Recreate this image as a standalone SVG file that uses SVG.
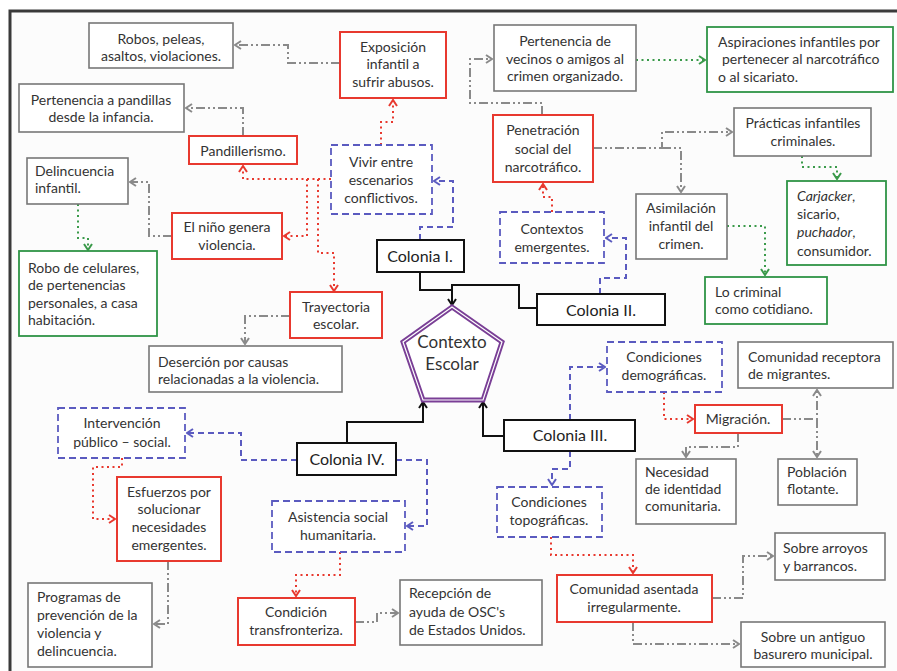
<svg xmlns="http://www.w3.org/2000/svg" width="897" height="671" viewBox="0 0 897 671">
<style>
text{font-family:Lato,"Open Sans","Liberation Sans",sans-serif;font-size:14px;fill:#333}
.c{text-anchor:middle}
.big{font-size:16px;fill:#222}
.pent{font-size:17px;fill:#333}
.gray{fill:#fff;stroke:#777;stroke-width:1.6}
.red{fill:#fff;stroke:#e8392f;stroke-width:2}
.grn{fill:#fff;stroke:#2f9446;stroke-width:1.8}
.blu{fill:#fff;stroke:#5b5bc0;stroke-width:1.8;stroke-dasharray:7,4}
.blk{fill:#fff;stroke:#111;stroke-width:2}
.lg{fill:none;stroke:#8a8a8a;stroke-width:2;stroke-dasharray:9,3,2,3,2,3}
.lr{fill:none;stroke:#e8392f;stroke-width:2;stroke-dasharray:2,3.5}
.lgr{fill:none;stroke:#3a9a4a;stroke-width:2;stroke-dasharray:2,3.5}
.lb{fill:none;stroke:#5b5bc0;stroke-width:2;stroke-dasharray:6,4}
.lk{fill:none;stroke:#111;stroke-width:2}
</style>
<defs>
<marker id="ag" viewBox="0 0 8 10" refX="7" refY="5" markerWidth="8" markerHeight="10" markerUnits="userSpaceOnUse" orient="auto"><path d="M1,1 L7,5 L1,9" fill="none" stroke="#8a8a8a" stroke-width="2"/></marker>
<marker id="ar" viewBox="0 0 8 10" refX="7" refY="5" markerWidth="8" markerHeight="10" markerUnits="userSpaceOnUse" orient="auto"><path d="M1,1 L7,5 L1,9" fill="none" stroke="#e8392f" stroke-width="2"/></marker>
<marker id="agr" viewBox="0 0 8 10" refX="7" refY="5" markerWidth="8" markerHeight="10" markerUnits="userSpaceOnUse" orient="auto"><path d="M1,1 L7,5 L1,9" fill="none" stroke="#3a9a4a" stroke-width="2"/></marker>
<marker id="ab" viewBox="0 0 8 10" refX="7" refY="5" markerWidth="8" markerHeight="10" markerUnits="userSpaceOnUse" orient="auto"><path d="M1,1 L7,5 L1,9" fill="none" stroke="#5b5bc0" stroke-width="2"/></marker>
<marker id="ak" viewBox="0 0 8 10" refX="7" refY="5" markerWidth="8" markerHeight="10" markerUnits="userSpaceOnUse" orient="auto"><path d="M1,1 L7,5 L1,9" fill="none" stroke="#111" stroke-width="2"/></marker>
</defs>
<rect x="0" y="0" width="897" height="671" fill="#fff"/>
<rect x="10" y="11" width="900" height="680" fill="#fcfcfc" stroke="#3a3a3a" stroke-width="3"/>

<g id="connectors">
<path class="lg" d="M340,63 H288 V45 H235" marker-end="url(#ag)"/>
<path class="lg" d="M243,136 V108 H186" marker-end="url(#ag)"/>
<path class="lg" d="M172,236 H149 V182 H130" marker-end="url(#ag)"/>
<path class="lgr" d="M78,204 V238 H88 V250" marker-end="url(#agr)"/>
<path class="lr" d="M331,179 H243 V166" marker-end="url(#ar)"/>
<path class="lr" d="M307,179 V236 H284" marker-end="url(#ar)"/>
<path class="lr" d="M318,179 V253 H334 V291" marker-end="url(#ar)"/>
<path class="lr" d="M381,145 V122 H393 V100" marker-end="url(#ar)"/>
<path class="lb" d="M420,240 V227 H453 V181 H434" marker-end="url(#ab)"/>
<path class="lg" d="M542,115 V103 H470 V59 H492" marker-end="url(#ag)"/>
<path class="lgr" d="M636,60 H705" marker-end="url(#agr)"/>
<path class="lg" d="M593,148 H662 V132 H732" marker-end="url(#ag)"/>
<path class="lg" d="M662,148 H681 V192" marker-end="url(#ag)"/>
<path class="lgr" d="M802,156 V167 H837 V179" marker-end="url(#agr)"/>
<path class="lgr" d="M727,226 H765 V275" marker-end="url(#agr)"/>
<path class="lb" d="M600,294 V278 H626 V238 H606" marker-end="url(#ab)"/>
<path class="lr" d="M552,212 V197 H543 V184" marker-end="url(#ar)"/>
<path class="lk" d="M420,272 V290 H452 V305" marker-end="url(#ak)"/>
<path class="lk" d="M537,308 H519 V285 H452 V290"/>
<path class="lk" d="M347,443 V422 H423 V402" marker-end="url(#ak)"/>
<path class="lk" d="M504,436 H483 V402" marker-end="url(#ak)"/>
<path class="lb" d="M297,460 H241 V433 H187" marker-end="url(#ab)"/>
<path class="lb" d="M396,460 H427 V526 H407" marker-end="url(#ab)"/>
<path class="lb" d="M570,420 V367 H605" marker-end="url(#ab)"/>
<path class="lb" d="M570,451 V469 H552 V485" marker-end="url(#ab)"/>
<path class="lr" d="M664,392 V419 H693" marker-end="url(#ar)"/>
<path class="lg" d="M782,419 H817 V390" marker-end="url(#ag)"/>
<path class="lg" d="M817,419 V457" marker-end="url(#ag)"/>
<path class="lg" d="M738,433 V447 H686 V457" marker-end="url(#ag)"/>
<path class="lr" d="M551,537 V555 H633 V573" marker-end="url(#ar)"/>
<path class="lg" d="M712,598 H743 V556 H773" marker-end="url(#ag)"/>
<path class="lg" d="M633,622 H633 V644 H739" marker-end="url(#ag)"/>
<path class="lr" d="M340,552 V575 H296 V596" marker-end="url(#ar)"/>
<path class="lg" d="M355,622 H377 V613 H398" marker-end="url(#ag)"/>
<path class="lr" d="M122,458 V467 H93 V519 H115" marker-end="url(#ar)"/>
<path class="lg" d="M168,561 V624 H154" marker-end="url(#ag)"/>
<path class="lg" d="M290,316 H245 V344" marker-end="url(#ag)"/>
</g>

<g id="n-robos"><rect class="gray" x="89" y="23" width="144" height="45"/><text class="c" x="161" y="44">Robos, peleas,</text><text class="c" x="161" y="61">asaltos, violaciones.</text></g>
<g id="n-pandillas"><rect class="gray" x="19" y="84" width="165" height="48"/><text class="c" x="101" y="105">Pertenencia a pandillas</text><text class="c" x="101" y="122">desde la infancia.</text></g>
<g id="n-pandillerismo"><rect class="red" x="189" y="136" width="108" height="28"/><text class="c" x="243" y="156">Pandillerismo.</text></g>
<g id="n-delincuencia"><rect class="gray" x="27" y="158" width="101" height="46"/><text x="35" y="176">Delincuencia</text><text x="35" y="193">infantil.</text></g>
<g id="n-nino"><rect class="red" x="172" y="213" width="110" height="46"/><text class="c" x="227" y="232">El niño genera</text><text class="c" x="227" y="250">violencia.</text></g>
<g id="n-robo-cel"><rect class="grn" x="19" y="251" width="138" height="85"/><text x="28" y="273">Robo de  celulares,</text><text x="28" y="290">de pertenencias</text><text x="28" y="308">personales, a casa</text><text x="28" y="325">habitación.</text></g>
<g id="n-exposicion"><rect class="red" x="340" y="32" width="106" height="66"/><text class="c" x="393" y="52">Exposición</text><text class="c" x="393" y="69">infantil a</text><text class="c" x="393" y="87">sufrir abusos.</text></g>
<g id="n-vivir"><rect class="blu" x="331" y="145" width="101" height="69"/><text class="c" x="381" y="167">Vivir entre</text><text class="c" x="381" y="185">escenarios</text><text class="c" x="381" y="203">conflictivos.</text></g>
<g id="n-vecinos"><rect class="gray" x="494" y="25" width="142" height="66"/><text class="c" x="565" y="46">Pertenencia de</text><text class="c" x="565" y="64">vecinos o amigos al</text><text class="c" x="565" y="81">crimen organizado.</text></g>
<g id="n-aspiraciones"><rect class="grn" x="707" y="27" width="186" height="65"/><text x="718" y="47">Aspiraciones infantiles por</text><text x="722" y="64">pertenecer al narcotráfico</text><text x="718" y="82">o al sicariato.</text></g>
<g id="n-penetracion"><rect class="red" x="493" y="115" width="100" height="67"/><text class="c" x="543" y="135">Penetración</text><text class="c" x="543" y="154">social del</text><text class="c" x="543" y="172">narcotráfico.</text></g>
<g id="n-practicas"><rect class="gray" x="734" y="108" width="137" height="48"/><text class="c" x="803" y="128">Prácticas infantiles</text><text class="c" x="803" y="146">criminales.</text></g>
<g id="n-carjacker"><rect class="grn" x="787" y="181" width="99" height="84"/><text x="797" y="201"><tspan font-style="italic">Carjacker</tspan>,</text><text x="797" y="219">sicario,</text><text x="797" y="237"><tspan font-style="italic">puchador</tspan>,</text><text x="797" y="256">consumidor.</text></g>
<g id="n-asimilacion"><rect class="gray" x="636" y="194" width="91" height="65"/><text class="c" x="681" y="213">Asimilación</text><text class="c" x="681" y="231">infantil del</text><text class="c" x="681" y="249">crimen.</text></g>
<g id="n-cotidiano"><rect class="grn" x="705" y="277" width="122" height="47"/><text x="715" y="297">Lo criminal</text><text x="715" y="314">como cotidiano.</text></g>
<g id="n-contextos"><rect class="blu" x="500" y="212" width="104" height="51"/><text class="c" x="552" y="234">Contextos</text><text class="c" x="552" y="252">emergentes.</text></g>
<g id="n-col1"><rect class="blk" x="377" y="240" width="87" height="32"/><text class="c big" x="420" y="262">Colonia I.</text></g>
<g id="n-col2"><rect class="blk" x="537" y="294" width="128" height="31"/><text class="c big" x="601" y="316">Colonia II.</text></g>
<g id="n-contexto"><polygon points="452,307 502,342 483,400 423,400 403,342" fill="#fff" stroke="#7a3f96" stroke-width="5" stroke-linejoin="miter"/><polygon points="452,307 502,342 483,400 423,400 403,342" fill="none" stroke="#fff" stroke-width="1.2"/><text class="c pent" x="452" y="348">Contexto</text><text class="c pent" x="452" y="370">Escolar</text></g>
<g id="n-trayectoria"><rect class="red" x="290" y="292" width="92" height="46"/><text class="c" x="336" y="312">Trayectoria</text><text class="c" x="336" y="329">escolar.</text></g>
<g id="n-desercion"><rect class="gray" x="149" y="346" width="193" height="46"/><text x="158" y="367">Deserción por causas</text><text x="158" y="384">relacionadas a la violencia.</text></g>
<g id="n-intervencion"><rect class="blu" x="58" y="408" width="127" height="50"/><text class="c" x="122" y="428">Intervención</text><text class="c" x="122" y="447">público – social.</text></g>
<g id="n-col4"><rect class="blk" x="297" y="443" width="99" height="32"/><text class="c big" x="347" y="465">Colonia IV.</text></g>
<g id="n-col3"><rect class="blk" x="504" y="420" width="131" height="31"/><text class="c big" x="570" y="441">Colonia III.</text></g>
<g id="n-demograficas"><rect class="blu" x="607" y="342" width="115" height="50"/><text class="c" x="664" y="362">Condiciones</text><text class="c" x="664" y="380">demográficas.</text></g>
<g id="n-receptora"><rect class="gray" x="738" y="342" width="155" height="46"/><text x="748" y="362">Comunidad receptora</text><text x="748" y="379">de migrantes.</text></g>
<g id="n-migracion"><rect class="red" x="695" y="405" width="87" height="28"/><text class="c" x="738" y="424">Migración.</text></g>
<g id="n-necesidad"><rect class="gray" x="636" y="459" width="100" height="65"/><text x="645" y="477">Necesidad</text><text x="645" y="494">de identidad</text><text x="645" y="511">comunitaria.</text></g>
<g id="n-flotante"><rect class="gray" x="778" y="459" width="79" height="46"/><text x="787" y="477">Población</text><text x="787" y="494">flotante.</text></g>
<g id="n-topograficas"><rect class="blu" x="497" y="487" width="105" height="50"/><text class="c" x="549" y="507">Condiciones</text><text class="c" x="549" y="525">topográficas.</text></g>
<g id="n-asistencia"><rect class="blu" x="272" y="501" width="133" height="51"/><text class="c" x="338" y="522">Asistencia social</text><text class="c" x="338" y="540">humanitaria.</text></g>
<g id="n-esfuerzos"><rect class="red" x="117" y="477" width="104" height="84"/><text class="c" x="169" y="497">Esfuerzos por</text><text class="c" x="169" y="514">solucionar</text><text class="c" x="169" y="532">necesidades</text><text class="c" x="169" y="550">emergentes.</text></g>
<g id="n-programas"><rect class="gray" x="28" y="583" width="124" height="84"/><text x="37" y="602">Programas de</text><text x="37" y="620">prevención de la</text><text x="37" y="638">violencia y</text><text x="37" y="656">delincuencia.</text></g>
<g id="n-transfronteriza"><rect class="red" x="238" y="598" width="117" height="47"/><text class="c" x="296" y="617">Condición</text><text class="c" x="296" y="635">transfronteriza.</text></g>
<g id="n-recepcion"><rect class="gray" x="400" y="580" width="142" height="65"/><text x="409" y="598">Recepción de</text><text x="409" y="617">ayuda de  OSC's</text><text x="409" y="635">de Estados Unidos.</text></g>
<g id="n-asentada"><rect class="red" x="557" y="575" width="155" height="47"/><text class="c" x="634" y="594">Comunidad asentada</text><text class="c" x="634" y="612">irregularmente.</text></g>
<g id="n-arroyos"><rect class="gray" x="775" y="533" width="110" height="47"/><text x="783" y="553">Sobre arroyos</text><text x="783" y="571">y barrancos.</text></g>
<g id="n-basurero"><rect class="gray" x="741" y="622" width="144" height="45"/><text class="c" x="813" y="642">Sobre un antiguo</text><text class="c" x="813" y="659">basurero municipal.</text></g>
</svg>
